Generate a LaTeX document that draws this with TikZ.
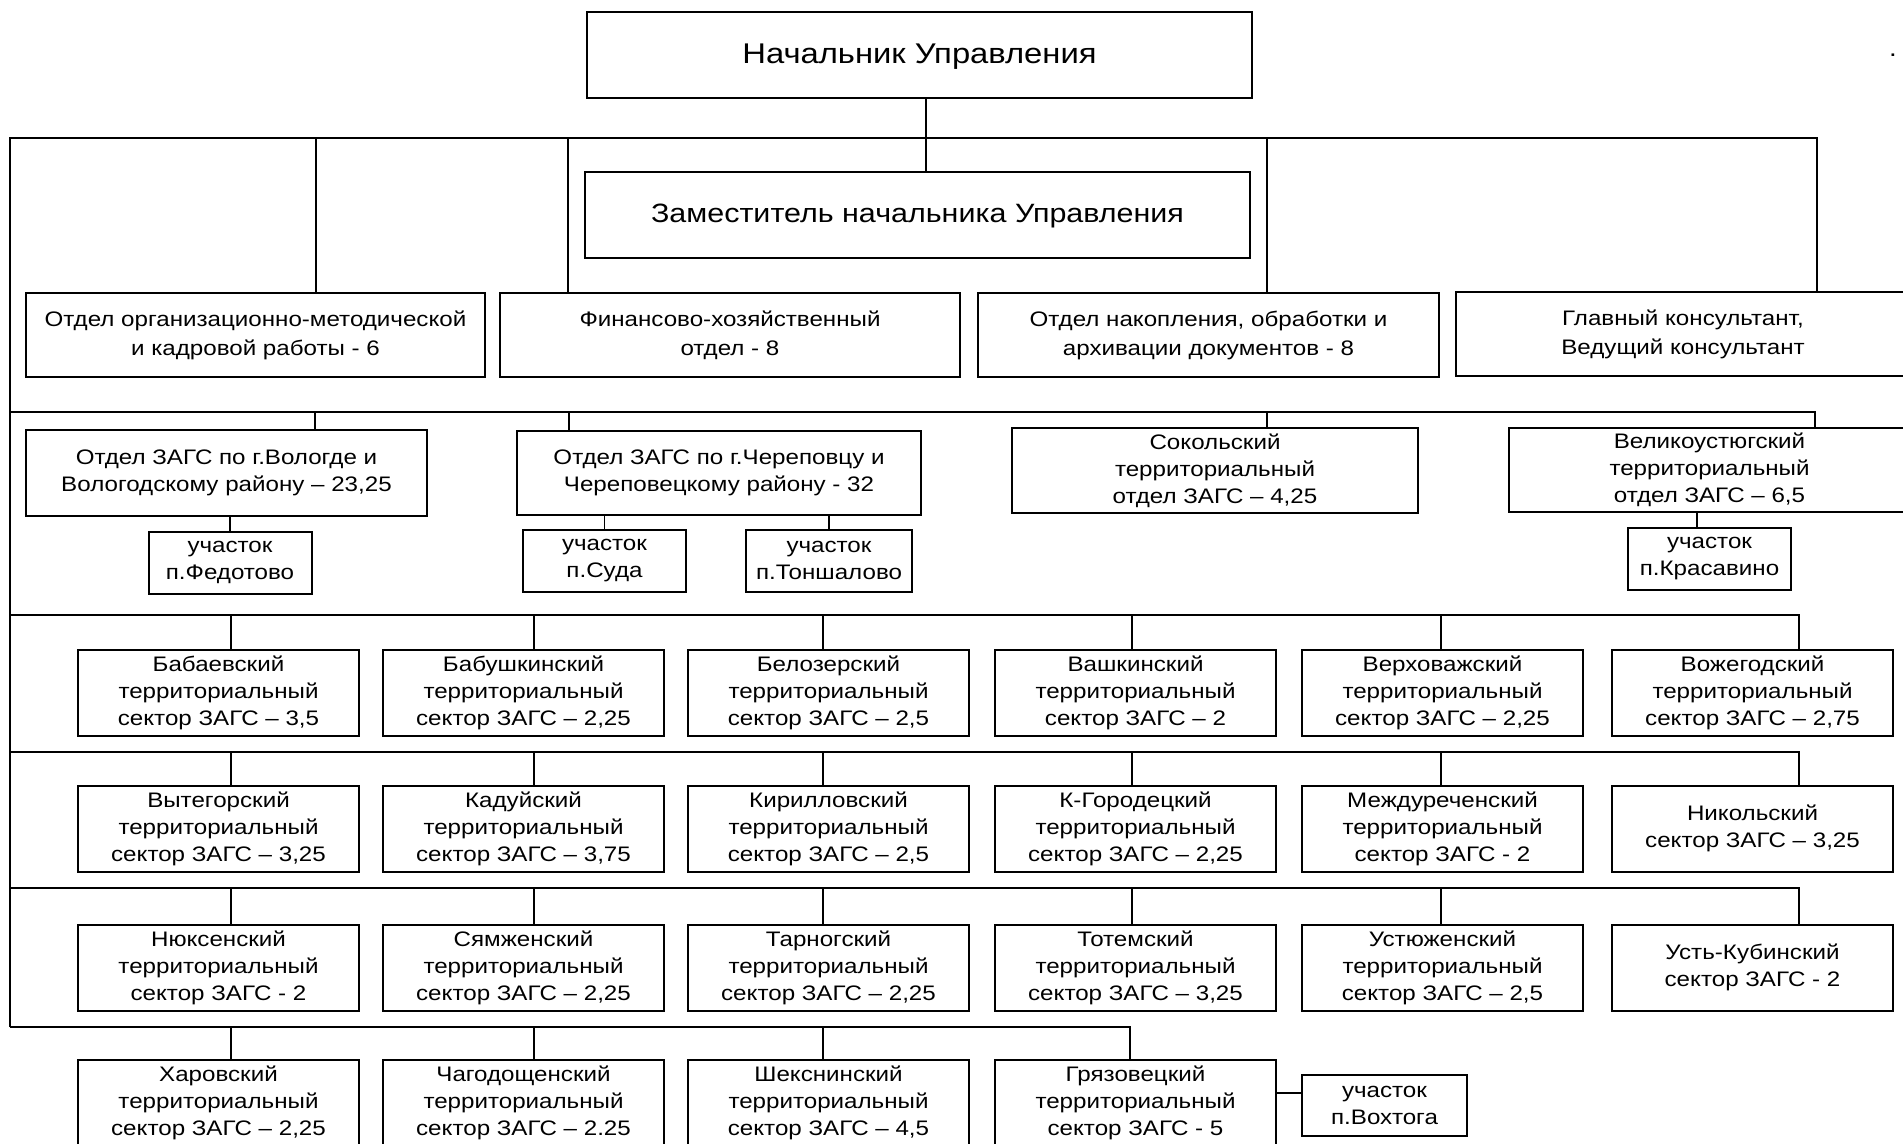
\documentclass[tikz,border=0pt]{standalone}
\usepackage{fontspec}
\setmainfont{Liberation Sans}[FakeStretch=1.15]
\begin{document}
\begin{tikzpicture}[x=1pt,y=-1pt,
  box/.style={draw, line width=2pt, align=center, inner sep=0pt, font=\fontsize{21}{27}\selectfont},
  topbox/.style={box, minimum width=665, minimum height=86},
  deptbox/.style={box, font=\fontsize{21}{29}\selectfont, minimum height=84},
  zagsbox/.style={box, font=\fontsize{21}{27}\selectfont},
  sec/.style={box, minimum width=281, minimum height=86},
  uch/.style={box, minimum width=163, minimum height=62},
  wire/.style={line width=1.6pt}]
\useasboundingbox (0,0) rectangle (1903,1143);
\fill[white] (0,0) rectangle (1903,1143);

% top
\node[topbox, font=\fontsize{28.5}{32}\selectfont, text depth=2pt] (boss) at (919.5,55) {Начальник Управления};
\node[topbox, font=\fontsize{26.5}{32}\selectfont, text depth=3pt] (dep) at (917.5,215) {Заместитель начальника Управления};
\node[font=\fontsize{24}{24}\selectfont] (dot) at (1893,55) {.};

% departments
\node[deptbox, minimum width=459] (otd1) at (255.5,335) {Отдел организационно-методической\\и кадровой работы - 6};
\node[deptbox, minimum width=460] (otd2) at (730,335) {Финансово-хозяйственный\\отдел - 8};
\node[deptbox, minimum width=461] (otd3) at (1208.5,335) {Отдел накопления, обработки и\\архивации документов - 8};
\node[deptbox, minimum width=454] (glav) at (1683,334) {Главный консультант,\\Ведущий консультант};

% ZAGS departments
\node[zagsbox, minimum width=401, minimum height=86] (zags1) at (226.5,473) {Отдел ЗАГС по г.Вологде и\\Вологодскому району – 23,25};
\node[zagsbox, minimum width=404, minimum height=84] (zags2) at (719,472.5) {Отдел ЗАГС по г.Череповцу и\\Череповецкому району - 32};
\node[zagsbox, minimum width=406, minimum height=85] (sok) at (1215,470.5) {Сокольский\\территориальный\\отдел ЗАГС – 4,25};
\node[zagsbox, minimum width=401, minimum height=84] (vu) at (1709.5,470) {Великоустюгский\\территориальный\\отдел ЗАГС – 6,5};

\node[uch] (uch1) at (230,562.5) {участок\\п.Федотово};
\node[uch] (uch2) at (604.5,560.5) {участок\\п.Суда};
\node[uch, minimum width=166] (uch3) at (829,560.5) {участок\\п.Тоншалово};
\node[uch] (uch4) at (1709.5,559) {участок\\п.Красавино};

% sectors row 1
\node[sec] (s11) at (218.5,693) {Бабаевский\\территориальный\\сектор ЗАГС – 3,5};
\node[sec] (s12) at (523.5,693) {Бабушкинский\\территориальный\\сектор ЗАГС – 2,25};
\node[sec] (s13) at (828.5,693) {Белозерский\\территориальный\\сектор ЗАГС – 2,5};
\node[sec] (s14) at (1135.5,693) {Вашкинский\\территориальный\\сектор ЗАГС – 2};
\node[sec] (s15) at (1442.5,693) {Верховажский\\территориальный\\сектор ЗАГС – 2,25};
\node[sec] (s16) at (1752.5,693) {Вожегодский\\территориальный\\сектор ЗАГС – 2,75};
% row 2
\node[sec] (s21) at (218.5,828.5) {Вытегорский\\территориальный\\сектор ЗАГС – 3,25};
\node[sec] (s22) at (523.5,828.5) {Кадуйский\\территориальный\\сектор ЗАГС – 3,75};
\node[sec] (s23) at (828.5,828.5) {Кирилловский\\территориальный\\сектор ЗАГС – 2,5};
\node[sec] (s24) at (1135.5,828.5) {К-Городецкий\\территориальный\\сектор ЗАГС – 2,25};
\node[sec] (s25) at (1442.5,828.5) {Междуреченский\\территориальный\\сектор ЗАГС - 2};
\node[sec] (s26) at (1752.5,828.5) {Никольский\\сектор ЗАГС – 3,25};
% row 3
\node[sec] (s31) at (218.5,967.5) {Нюксенский\\территориальный\\сектор ЗАГС - 2};
\node[sec] (s32) at (523.5,967.5) {Сямженский\\территориальный\\сектор ЗАГС – 2,25};
\node[sec] (s33) at (828.5,967.5) {Тарногский\\территориальный\\сектор ЗАГС – 2,25};
\node[sec] (s34) at (1135.5,967.5) {Тотемский\\территориальный\\сектор ЗАГС – 3,25};
\node[sec] (s35) at (1442.5,967.5) {Устюженский\\территориальный\\сектор ЗАГС – 2,5};
\node[sec] (s36) at (1752.5,967.5) {Усть-Кубинский\\сектор ЗАГС - 2};
% row 4
\node[sec] (s41) at (218.5,1103) {Харовский\\территориальный\\сектор ЗАГС – 2,25};
\node[sec] (s42) at (523.5,1103) {Чагодощенский\\территориальный\\сектор ЗАГС – 2.25};
\node[sec] (s43) at (828.5,1103) {Шекснинский\\территориальный\\сектор ЗАГС – 4,5};
\node[sec] (s44) at (1135.5,1103) {Грязовецкий\\территориальный\\сектор ЗАГС - 5};
\node[uch, minimum width=165, minimum height=61] (uch5) at (1384.5,1105.5) {участок\\п.Вохтога};

% connectors: top
\draw[wire] ([xshift=6.5pt]boss.south) -- ([xshift=8.5pt]dep.north);
\coordinate (b1l) at (10,138);
\coordinate (b1r) at (1817,138);
\coordinate (bl) at (10,1027);
\draw[wire] (bl) -- (b1l) -- (b1r) -- (b1r |- glav.north);
\coordinate (t11) at (316,138);
\coordinate (t12) at (568,138);
\coordinate (t13) at (1267,138);
\draw[wire] (t11) -- (t11 |- otd1.north);
\draw[wire] (t12) -- (t12 |- otd2.north);
\draw[wire] (t13) -- (t13 |- otd3.north);

% bus 2
\coordinate (b2l) at (10,412);
\coordinate (b2r) at (1815,412);
\draw[wire] (b2l) -- (b2r) -- (b2r |- vu.north);
\coordinate (t21) at (315,412);
\coordinate (t22) at (569,412);
\coordinate (t23) at (1267,412);
\draw[wire] (t21) -- (t21 |- zags1.north);
\draw[wire] (t22) -- (t22 |- zags2.north);
\draw[wire] (t23) -- (t23 |- sok.north);
\draw[wire] (uch1.north |- zags1.south) -- (uch1.north);
\draw[wire] (uch2.north |- zags2.south) -- (uch2.north);
\draw[wire] (uch3.north |- zags2.south) -- (uch3.north);
\draw[wire] ([xshift=-12.5pt]uch4.north |- vu.south) -- ([xshift=-12.5pt]uch4.north);

% sector buses
\foreach \r/\yy in {1/615,2/752,3/888}{
  \coordinate (bs\r l) at (10,\yy);
  \coordinate (bs\r r) at (1799,\yy);
  \draw[wire] (bs\r l) -- (bs\r r) -- (bs\r r |- s\r6.north);
  \foreach \c/\xx in {1/231,2/534,3/823,4/1132,5/1441}{
    \coordinate (j\r\c) at (\xx,\yy);
    \draw[wire] (j\r\c) -- (j\r\c |- s\r\c.north);
  }
}
\coordinate (bs4l) at (10,1027);
\coordinate (bs4r) at (1130,1027);
\draw[wire] (bs4l) -- (bs4r) -- (bs4r |- s44.north);
\foreach \c/\xx in {1/231,2/534,3/823}{
  \coordinate (j4\c) at (\xx,1027);
  \draw[wire] (j4\c) -- (j4\c |- s4\c.north);
}
\draw[wire] ([yshift=10pt]s44.east) -- ([yshift=12.5pt]uch5.west);
\end{tikzpicture}
\end{document}
